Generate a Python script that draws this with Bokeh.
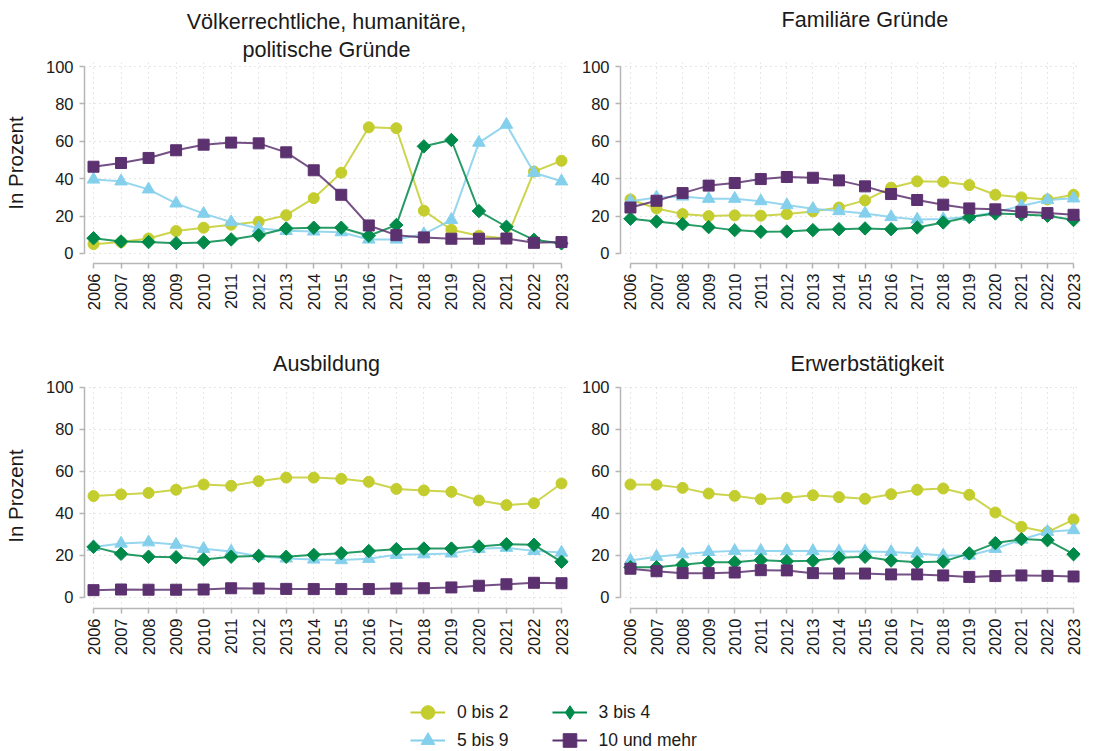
import math
from bokeh.plotting import figure
from bokeh.models import FixedTicker, Range1d, Title, Legend, LegendItem
from bokeh.layouts import column, row
from bokeh.embed import file_html
from bokeh.resources import INLINE

years = list(range(2006, 2024))
series_labels = ["0 bis 2", "3 bis 4", "5 bis 9", "10 und mehr"]
y_ticks = [0, 20, 40, 60, 80, 100]

# Völkerrechtliche, humanitäre, politische Gründe
p1_0_2 = [5.0, 6.1, 8.0, 12.0, 13.8, 15.4, 17.0, 20.5, 29.6, 43.2, 67.5, 67.0, 22.9, 12.7, 9.5, 8.0, 43.8, 49.6]
p1_3_4 = [8.2, 6.4, 6.1, 5.5, 5.9, 7.5, 9.8, 13.4, 13.8, 13.8, 9.5, 15.2, 57.3, 60.7, 22.7, 14.3, 7.3, 5.4]
p1_5_9 = [39.6, 38.6, 34.3, 26.8, 21.3, 16.8, 13.4, 12.1, 11.8, 11.4, 7.5, 7.5, 10.4, 18.0, 59.3, 68.9, 43.2, 38.6]
p1_10p = [46.4, 48.4, 51.1, 55.2, 58.2, 59.3, 58.9, 54.1, 44.5, 31.4, 15.0, 9.8, 8.6, 7.9, 7.9, 8.0, 5.7, 6.1]

# Familiäre Gründe
p2_0_2 = [28.9, 24.1, 21.1, 20.0, 20.4, 20.2, 21.1, 22.5, 24.6, 28.4, 35.2, 38.6, 38.4, 36.6, 31.4, 30.0, 28.9, 31.4]
p2_3_4 = [18.6, 17.1, 15.7, 14.1, 12.5, 11.6, 11.8, 12.5, 13.0, 13.4, 13.0, 13.9, 16.6, 19.5, 21.4, 20.9, 20.2, 17.9]
p2_5_9 = [27.9, 30.0, 30.5, 29.3, 29.3, 28.0, 25.9, 23.9, 22.7, 21.4, 19.5, 18.2, 18.4, 19.6, 22.1, 25.4, 28.6, 29.5]
p2_10p = [24.6, 28.2, 32.3, 36.3, 37.7, 39.8, 40.9, 40.5, 39.1, 35.9, 31.8, 28.6, 26.1, 24.1, 23.6, 22.3, 21.6, 20.7]

# Ausbildung
p3_0_2 = [48.3, 49.1, 49.8, 51.3, 53.8, 53.2, 55.4, 57.1, 57.1, 56.5, 55.1, 51.7, 51.0, 50.3, 46.2, 44.0, 44.9, 54.3]
p3_3_4 = [24.1, 20.8, 19.4, 19.2, 18.1, 19.4, 19.8, 19.4, 20.3, 21.1, 22.1, 23.0, 23.3, 23.3, 24.3, 25.4, 25.1, 17.0]
p3_5_9 = [24.1, 25.7, 26.3, 25.2, 23.2, 21.9, 19.7, 18.6, 18.1, 17.8, 18.4, 20.3, 20.6, 21.0, 23.2, 23.7, 22.2, 21.4]
p3_10p = [3.5, 3.8, 3.7, 3.7, 3.8, 4.4, 4.3, 4.1, 4.0, 4.0, 4.0, 4.3, 4.4, 4.8, 5.6, 6.3, 7.0, 6.8]

# Erwerbstätigkeit
p4_0_2 = [53.8, 53.7, 52.2, 49.5, 48.4, 46.8, 47.5, 48.7, 47.8, 47.0, 49.2, 51.3, 51.9, 48.9, 40.5, 33.7, 31.1, 37.1]
p4_3_4 = [14.4, 14.4, 15.6, 16.8, 16.8, 17.8, 17.3, 17.5, 18.9, 19.4, 17.6, 16.8, 17.1, 21.0, 25.9, 27.8, 27.3, 20.6]
p4_5_9 = [17.6, 19.4, 20.6, 21.7, 22.2, 22.2, 22.1, 22.1, 21.9, 21.9, 21.7, 20.9, 20.0, 20.0, 23.2, 27.6, 31.3, 32.1]
p4_10p = [13.7, 12.5, 11.6, 11.6, 11.9, 13.0, 12.9, 11.6, 11.4, 11.4, 11.0, 11.0, 10.5, 9.8, 10.2, 10.5, 10.3, 10.0]

FONT = "Liberation Sans"
TXT = "#1a1a1a"
AXC = "#b5b5b5"
GRIDC = "#cdcdcd"
TITLE_SIZE = "21.6px"

STYLE = {
    "0 bis 2": ("#c4cd2e", "circle", 11, 0.0),
    "5 bis 9": ("#84d0ec", "triangle", 12.5, 0.0),
    "3 bis 4": ("#008a4a", "square", 9.5, math.pi / 4),
    "10 und mehr": ("#5c3170", "square", 11, 0.0),
}
DRAW_ORDER = ["0 bis 2", "5 bis 9", "3 bis 4", "10 und mehr"]


def make_panel(data, width, height, bl, br, bt, bb, xr, yr, ylabel):
    p = figure(width=width, height=height, x_range=Range1d(*xr), y_range=Range1d(*yr),
               output_backend="svg", toolbar_location=None, tools="",
               min_border_left=bl, min_border_right=br, min_border_top=bt, min_border_bottom=bb)
    p.outline_line_color = None
    for ax in (p.xaxis, p.yaxis):
        ax.axis_line_color = AXC
        ax.axis_line_width = 1.5
        ax.major_tick_line_color = AXC
        ax.major_tick_line_width = 1.5
        ax.major_tick_out = 5
        ax.major_tick_in = 0
        ax.minor_tick_line_color = None
        ax.major_label_text_font = FONT
        ax.major_label_text_font_size = "16.5px"
        ax.major_label_text_color = TXT
    p.xaxis.ticker = FixedTicker(ticks=years)
    p.xaxis.bounds = (years[0], years[-1])
    p.xaxis.major_label_orientation = math.pi / 2
    p.xaxis.major_label_standoff = 5
    p.yaxis.ticker = FixedTicker(ticks=y_ticks)
    p.yaxis.bounds = (y_ticks[0], y_ticks[-1])
    p.yaxis.major_label_standoff = 6
    if ylabel:
        p.yaxis.axis_label = ylabel
        p.yaxis.axis_label_text_font = FONT
        p.yaxis.axis_label_text_font_size = "20.5px"
        p.yaxis.axis_label_text_font_style = "normal"
        p.yaxis.axis_label_text_color = TXT
        p.yaxis.axis_label_standoff = 16
    p.xgrid.ticker = FixedTicker(ticks=years)
    p.ygrid.ticker = FixedTicker(ticks=y_ticks)
    for g in (p.xgrid, p.ygrid):
        g.grid_line_color = GRIDC
        g.grid_line_dash = "1 4"
        g.grid_line_width = 1
    for lab in DRAW_ORDER:
        color, marker, size, angle = STYLE[lab]
        p.line(years, data[lab], line_color=color, line_width=2, line_alpha=0.85)
        p.scatter(years, data[lab], marker=marker, size=size, angle=angle,
                  fill_color=color, line_color=color, line_width=1)
    return p


def add_title(p, text, align, offset, standoff, line_height=1.0):
    p.add_layout(Title(text=text, align=align, offset=offset, text_font=FONT,
                       text_font_size=TITLE_SIZE, text_font_style="normal",
                       text_color=TXT, standoff=standoff, text_line_height=line_height), "above")


XR_L = (2005.673, 2023.254)
XR_R = (2005.618, 2023.267)
YR_T = (-5.35, 102.14)
YR_B = (-5.24, 101.9)

p1 = make_panel({"0 bis 2": p1_0_2, "3 bis 4": p1_3_4, "5 bis 9": p1_5_9, "10 und mehr": p1_10p},
                578, 330, 84, 10, 62, 67, XR_L, YR_T, "In Prozent")
# titles stack outward: the first added sits next to the frame
add_title(p1, "politische Gründe", "center", 0, 2)
add_title(p1, "Völkerrechtliche, humanitäre,", "center", 0, 0)

p2 = make_panel({"0 bis 2": p2_0_2, "3 bis 4": p2_3_4, "5 bis 9": p2_5_9, "10 und mehr": p2_10p},
                522, 330, 40, 20, 62, 67, XR_R, YR_T, None)
add_title(p2, "Familiäre Gründe\n ", "left", 161, 0, 1.22)

p3 = make_panel({"0 bis 2": p3_0_2, "3 bis 4": p3_3_4, "5 bis 9": p3_5_9, "10 und mehr": p3_10p},
                578, 332, 84, 10, 53, 54, XR_L, YR_B, "In Prozent")
add_title(p3, "Ausbildung", "center", 0, 16)

p4 = make_panel({"0 bis 2": p4_0_2, "3 bis 4": p4_3_4, "5 bis 9": p4_5_9, "10 und mehr": p4_10p},
                522, 332, 40, 20, 53, 54, XR_R, YR_B, None)
add_title(p4, "Erwerbstätigkeit", "left", 170, 16)

# Legend figure
pl = figure(width=1100, height=87, x_range=Range1d(0, 1), y_range=Range1d(0, 1),
            output_backend="svg", toolbar_location=None, tools="",
            min_border_left=0, min_border_right=0, min_border_top=0, min_border_bottom=0)
pl.outline_line_color = None
pl.xaxis.visible = False
pl.yaxis.visible = False
pl.xgrid.visible = False
pl.ygrid.visible = False
leg_markers = {"0 bis 2": "circle", "5 bis 9": "triangle", "3 bis 4": "diamond", "10 und mehr": "square"}
leg_data = {"0 bis 2": p1_0_2, "3 bis 4": p1_3_4, "5 bis 9": p1_5_9, "10 und mehr": p1_10p}
items = {}
for lab in series_labels:
    color = STYLE[lab][0]
    lr = pl.line(years, leg_data[lab], line_color=color, line_width=2)
    sr = pl.scatter(years, leg_data[lab], marker=leg_markers[lab], fill_color=color, line_color=color)
    items[lab] = LegendItem(label=lab, renderers=[lr, sr])


def make_legend(labs, loc):
    return Legend(items=[items[l] for l in labs], orientation="horizontal", location=loc,
                  glyph_width=35, glyph_height=34, label_standoff=12, spacing=43,
                  padding=0, margin=0, border_line_alpha=0, background_fill_alpha=0,
                  label_text_font=FONT, label_text_font_size="17.5px", label_text_color=TXT)


pl.add_layout(make_legend(["0 bis 2", "3 bis 4"], (410, 20)), "center")
pl.add_layout(make_legend(["5 bis 9", "10 und mehr"], (410, -8)), "center")

layout = column(row(p1, p2), row(p3, p4), pl)
open("out.html", "w").write(file_html(layout, INLINE))
